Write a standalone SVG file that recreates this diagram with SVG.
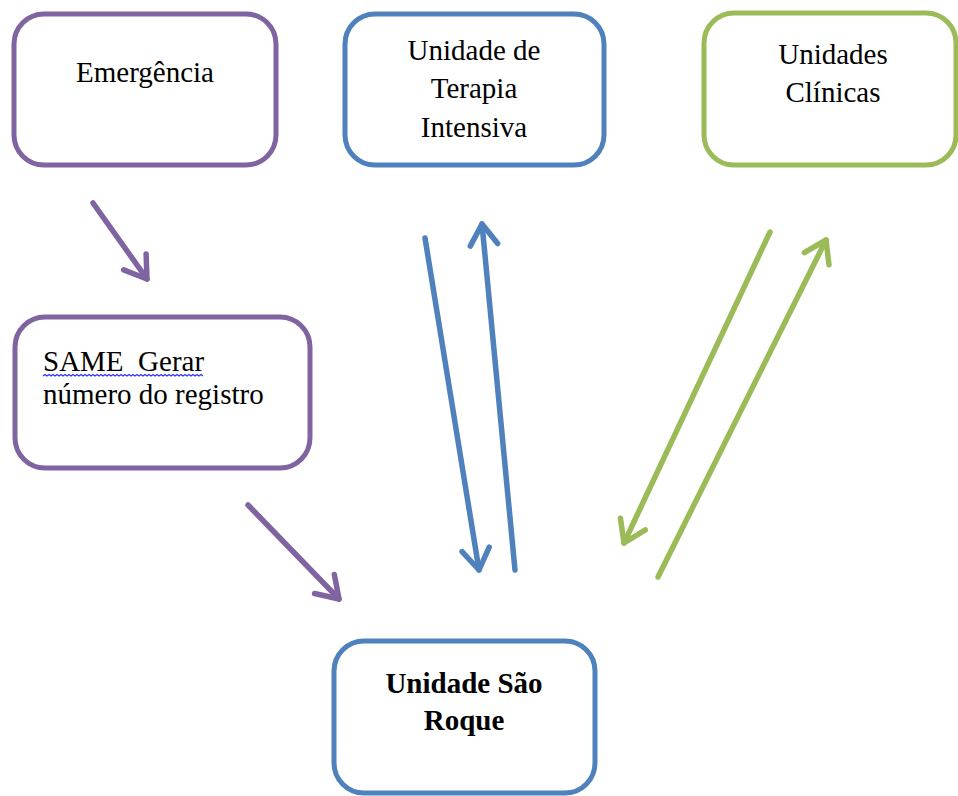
<svg xmlns="http://www.w3.org/2000/svg" width="958" height="796" viewBox="0 0 958 796">
<style>
.box{fill:#fff;stroke-width:5}
.pu{stroke:#8064A2}
.bl{stroke:#4F81BD}
.gr{stroke:#9BBB59}
.t{font-family:'Liberation Serif','DejaVu Serif',serif;font-size:29px;fill:#000}
.c{text-anchor:middle}
.b{font-weight:bold}
.ar{fill:none;stroke-width:5.5;stroke-linecap:round}
</style>
<defs>
<marker id="mpu" markerUnits="strokeWidth" orient="auto" refX="0" refY="0" markerWidth="10" markerHeight="10" overflow="visible"><path d="M-3.8,-2.5 L0,0 L-3.8,2.5" fill="none" stroke="#8064A2" stroke-width="1" stroke-linecap="round" stroke-linejoin="round"/></marker>
<marker id="mbl" markerUnits="strokeWidth" orient="auto" refX="0" refY="0" markerWidth="10" markerHeight="10" overflow="visible"><path d="M-3.8,-2.5 L0,0 L-3.8,2.5" fill="none" stroke="#4F81BD" stroke-width="1" stroke-linecap="round" stroke-linejoin="round"/></marker>
<marker id="mgr" markerUnits="strokeWidth" orient="auto" refX="0" refY="0" markerWidth="10" markerHeight="10" overflow="visible"><path d="M-3.8,-2.5 L0,0 L-3.8,2.5" fill="none" stroke="#9BBB59" stroke-width="1" stroke-linecap="round" stroke-linejoin="round"/></marker>
</defs>
<rect width="958" height="796" fill="#fff"/>
<g id="emergencia">
<rect class="box pu" x="14" y="14" width="262" height="151" rx="30"/>
<text class="t c" x="145" y="82" font-family="Liberation Serif, serif">Emergência</text>
</g>
<g id="uti">
<rect class="box bl" x="345" y="14" width="259" height="151" rx="30"/>
<text class="t c" x="474" y="60">Unidade de</text>
<text class="t c" x="474" y="98">Terapia</text>
<text class="t c" x="474" y="137">Intensiva</text>
</g>
<g id="clinicas">
<rect class="box gr" x="704" y="13" width="252" height="152" rx="30"/>
<text class="t c" x="833" y="64">Unidades</text>
<text class="t c" x="833" y="102">Clínicas</text>
</g>
<g id="same">
<rect class="box pu" x="15" y="317" width="295" height="151" rx="30"/>
<text class="t" x="43" y="371" xml:space="preserve">SAME  Gerar</text>
<path d="M43,376 l2,-1.5 2,1.5 2,-1.5 2,1.5 2,-1.5 2,1.5 2,-1.5 2,1.5 2,-1.5 2,1.5 2,-1.5 2,1.5 2,-1.5 2,1.5 2,-1.5 2,1.5 2,-1.5 2,1.5 2,-1.5 2,1.5 2,-1.5 2,1.5 2,-1.5 2,1.5 2,-1.5 2,1.5 2,-1.5 2,1.5 2,-1.5 2,1.5 2,-1.5 2,1.5 2,-1.5 2,1.5 2,-1.5 2,1.5 2,-1.5 2,1.5 2,-1.5 2,1.5 2,-1.5 2,1.5 2,-1.5 2,1.5 2,-1.5 2,1.5 2,-1.5 2,1.5 2,-1.5 2,1.5 2,-1.5 2,1.5 2,-1.5 2,1.5 2,-1.5 2,1.5 2,-1.5 2,1.5 2,-1.5 2,1.5 2,-1.5 2,1.5 2,-1.5 2,1.5 2,-1.5 2,1.5 2,-1.5 2,1.5 2,-1.5 2,1.5 2,-1.5 2,1.5 2,-1.5 2,1.5 2,-1.5 2,1.5 2,-1.5 2,1.5 2,-1.5 2,1.5" fill="none" stroke="#3333ff" stroke-width="1.2"/>
<text class="t" x="43" y="404">número do registro</text>
</g>
<g id="saoroque">
<rect class="box bl" x="334" y="641" width="261" height="152" rx="30"/>
<text class="t c b" x="464" y="693">Unidade São</text>
<text class="t c b" x="464" y="730">Roque</text>
</g>
<g id="connectors">
<line class="ar pu" x1="93" y1="203" x2="147" y2="279" marker-end="url(#mpu)"/>
<line class="ar pu" x1="248" y1="505" x2="339" y2="599" marker-end="url(#mpu)"/>
<line class="ar bl" x1="425" y1="238" x2="479" y2="570" marker-end="url(#mbl)"/>
<line class="ar bl" x1="515" y1="570" x2="482" y2="224" marker-end="url(#mbl)"/>
<line class="ar gr" x1="770" y1="232" x2="624" y2="543" marker-end="url(#mgr)"/>
<line class="ar gr" x1="658" y1="577" x2="826" y2="240" marker-end="url(#mgr)"/>
</g>
</svg>
